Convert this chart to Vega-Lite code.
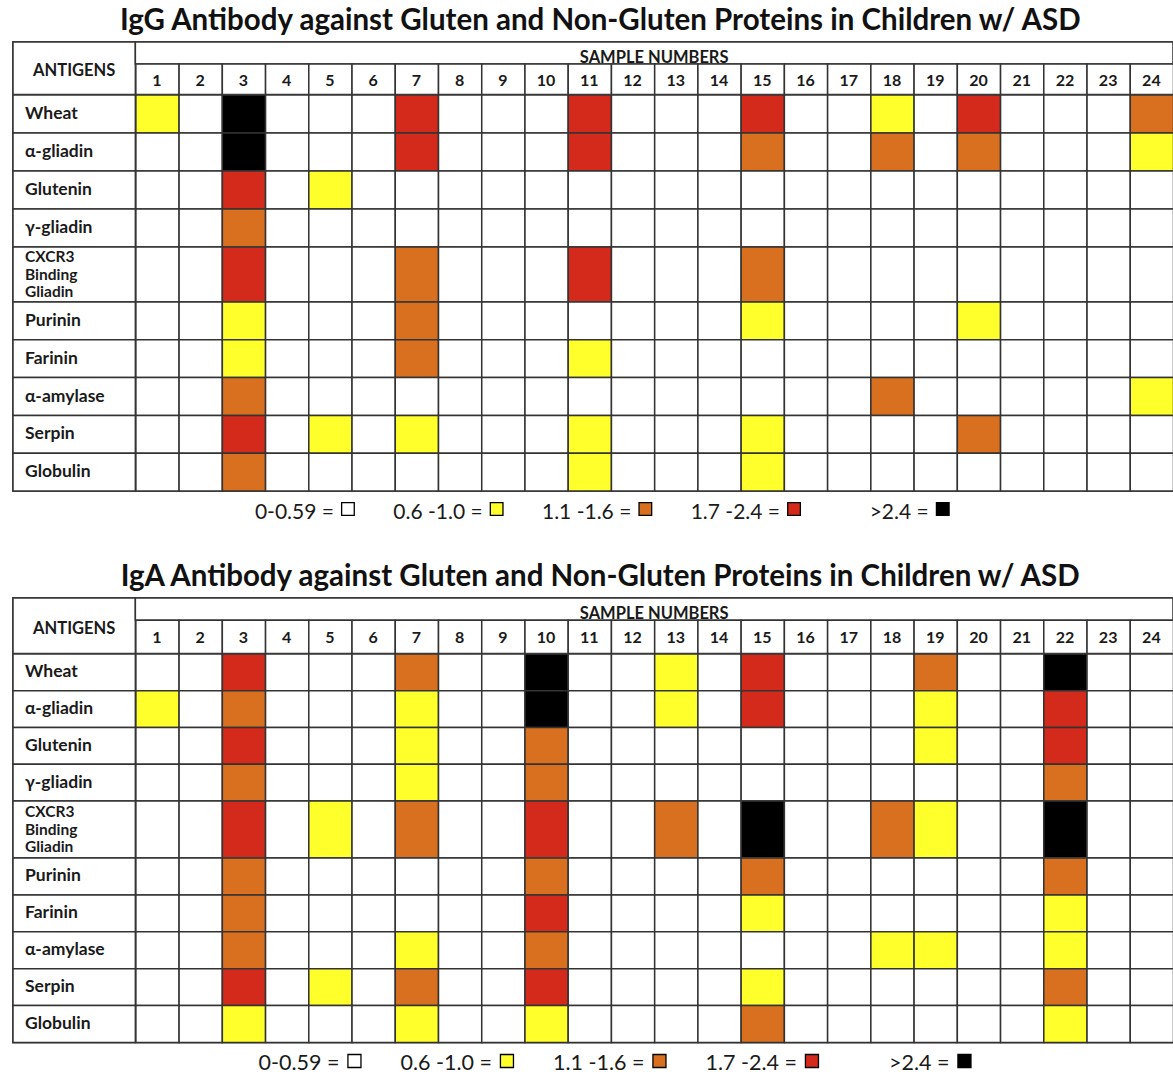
{
  "$schema": "https://vega.github.io/schema/vega-lite/v6.json",
  "padding": {"left": 11, "top": 5, "right": 2, "bottom": 0},
  "background": "white",
  "config": {"view": {"stroke": "#555555", "strokeWidth": 2}, "font": "Lato", "text": {"color": "#1a1a1a"}},
  "datasets": {
    "key": [
      {"v": 0, "label": "0-0.59 ="},
      {"v": 1, "label": "0.6 -1.0 ="},
      {"v": 2, "label": "1.1 -1.6 ="},
      {"v": 3, "label": "1.7 -2.4 ="},
      {"v": 4, "label": ">2.4 ="}
    ],
    "igg": [
      {"a":"Wheat","s":1,"v":1},{"a":"Wheat","s":2,"v":0},{"a":"Wheat","s":3,"v":4},{"a":"Wheat","s":4,"v":0},{"a":"Wheat","s":5,"v":0},{"a":"Wheat","s":6,"v":0},{"a":"Wheat","s":7,"v":3},{"a":"Wheat","s":8,"v":0},{"a":"Wheat","s":9,"v":0},{"a":"Wheat","s":10,"v":0},{"a":"Wheat","s":11,"v":3},{"a":"Wheat","s":12,"v":0},{"a":"Wheat","s":13,"v":0},{"a":"Wheat","s":14,"v":0},{"a":"Wheat","s":15,"v":3},{"a":"Wheat","s":16,"v":0},{"a":"Wheat","s":17,"v":0},{"a":"Wheat","s":18,"v":1},{"a":"Wheat","s":19,"v":0},{"a":"Wheat","s":20,"v":3},{"a":"Wheat","s":21,"v":0},{"a":"Wheat","s":22,"v":0},{"a":"Wheat","s":23,"v":0},{"a":"Wheat","s":24,"v":2},
      {"a":"α-gliadin","s":1,"v":0},{"a":"α-gliadin","s":2,"v":0},{"a":"α-gliadin","s":3,"v":4},{"a":"α-gliadin","s":4,"v":0},{"a":"α-gliadin","s":5,"v":0},{"a":"α-gliadin","s":6,"v":0},{"a":"α-gliadin","s":7,"v":3},{"a":"α-gliadin","s":8,"v":0},{"a":"α-gliadin","s":9,"v":0},{"a":"α-gliadin","s":10,"v":0},{"a":"α-gliadin","s":11,"v":3},{"a":"α-gliadin","s":12,"v":0},{"a":"α-gliadin","s":13,"v":0},{"a":"α-gliadin","s":14,"v":0},{"a":"α-gliadin","s":15,"v":2},{"a":"α-gliadin","s":16,"v":0},{"a":"α-gliadin","s":17,"v":0},{"a":"α-gliadin","s":18,"v":2},{"a":"α-gliadin","s":19,"v":0},{"a":"α-gliadin","s":20,"v":2},{"a":"α-gliadin","s":21,"v":0},{"a":"α-gliadin","s":22,"v":0},{"a":"α-gliadin","s":23,"v":0},{"a":"α-gliadin","s":24,"v":1},
      {"a":"Glutenin","s":1,"v":0},{"a":"Glutenin","s":2,"v":0},{"a":"Glutenin","s":3,"v":3},{"a":"Glutenin","s":4,"v":0},{"a":"Glutenin","s":5,"v":1},{"a":"Glutenin","s":6,"v":0},{"a":"Glutenin","s":7,"v":0},{"a":"Glutenin","s":8,"v":0},{"a":"Glutenin","s":9,"v":0},{"a":"Glutenin","s":10,"v":0},{"a":"Glutenin","s":11,"v":0},{"a":"Glutenin","s":12,"v":0},{"a":"Glutenin","s":13,"v":0},{"a":"Glutenin","s":14,"v":0},{"a":"Glutenin","s":15,"v":0},{"a":"Glutenin","s":16,"v":0},{"a":"Glutenin","s":17,"v":0},{"a":"Glutenin","s":18,"v":0},{"a":"Glutenin","s":19,"v":0},{"a":"Glutenin","s":20,"v":0},{"a":"Glutenin","s":21,"v":0},{"a":"Glutenin","s":22,"v":0},{"a":"Glutenin","s":23,"v":0},{"a":"Glutenin","s":24,"v":0},
      {"a":"γ-gliadin","s":1,"v":0},{"a":"γ-gliadin","s":2,"v":0},{"a":"γ-gliadin","s":3,"v":2},{"a":"γ-gliadin","s":4,"v":0},{"a":"γ-gliadin","s":5,"v":0},{"a":"γ-gliadin","s":6,"v":0},{"a":"γ-gliadin","s":7,"v":0},{"a":"γ-gliadin","s":8,"v":0},{"a":"γ-gliadin","s":9,"v":0},{"a":"γ-gliadin","s":10,"v":0},{"a":"γ-gliadin","s":11,"v":0},{"a":"γ-gliadin","s":12,"v":0},{"a":"γ-gliadin","s":13,"v":0},{"a":"γ-gliadin","s":14,"v":0},{"a":"γ-gliadin","s":15,"v":0},{"a":"γ-gliadin","s":16,"v":0},{"a":"γ-gliadin","s":17,"v":0},{"a":"γ-gliadin","s":18,"v":0},{"a":"γ-gliadin","s":19,"v":0},{"a":"γ-gliadin","s":20,"v":0},{"a":"γ-gliadin","s":21,"v":0},{"a":"γ-gliadin","s":22,"v":0},{"a":"γ-gliadin","s":23,"v":0},{"a":"γ-gliadin","s":24,"v":0},
      {"a":"CXCR3 Binding Gliadin","s":1,"v":0},{"a":"CXCR3 Binding Gliadin","s":2,"v":0},{"a":"CXCR3 Binding Gliadin","s":3,"v":3},{"a":"CXCR3 Binding Gliadin","s":4,"v":0},{"a":"CXCR3 Binding Gliadin","s":5,"v":0},{"a":"CXCR3 Binding Gliadin","s":6,"v":0},{"a":"CXCR3 Binding Gliadin","s":7,"v":2},{"a":"CXCR3 Binding Gliadin","s":8,"v":0},{"a":"CXCR3 Binding Gliadin","s":9,"v":0},{"a":"CXCR3 Binding Gliadin","s":10,"v":0},{"a":"CXCR3 Binding Gliadin","s":11,"v":3},{"a":"CXCR3 Binding Gliadin","s":12,"v":0},{"a":"CXCR3 Binding Gliadin","s":13,"v":0},{"a":"CXCR3 Binding Gliadin","s":14,"v":0},{"a":"CXCR3 Binding Gliadin","s":15,"v":2},{"a":"CXCR3 Binding Gliadin","s":16,"v":0},{"a":"CXCR3 Binding Gliadin","s":17,"v":0},{"a":"CXCR3 Binding Gliadin","s":18,"v":0},{"a":"CXCR3 Binding Gliadin","s":19,"v":0},{"a":"CXCR3 Binding Gliadin","s":20,"v":0},{"a":"CXCR3 Binding Gliadin","s":21,"v":0},{"a":"CXCR3 Binding Gliadin","s":22,"v":0},{"a":"CXCR3 Binding Gliadin","s":23,"v":0},{"a":"CXCR3 Binding Gliadin","s":24,"v":0},
      {"a":"Purinin","s":1,"v":0},{"a":"Purinin","s":2,"v":0},{"a":"Purinin","s":3,"v":1},{"a":"Purinin","s":4,"v":0},{"a":"Purinin","s":5,"v":0},{"a":"Purinin","s":6,"v":0},{"a":"Purinin","s":7,"v":2},{"a":"Purinin","s":8,"v":0},{"a":"Purinin","s":9,"v":0},{"a":"Purinin","s":10,"v":0},{"a":"Purinin","s":11,"v":0},{"a":"Purinin","s":12,"v":0},{"a":"Purinin","s":13,"v":0},{"a":"Purinin","s":14,"v":0},{"a":"Purinin","s":15,"v":1},{"a":"Purinin","s":16,"v":0},{"a":"Purinin","s":17,"v":0},{"a":"Purinin","s":18,"v":0},{"a":"Purinin","s":19,"v":0},{"a":"Purinin","s":20,"v":1},{"a":"Purinin","s":21,"v":0},{"a":"Purinin","s":22,"v":0},{"a":"Purinin","s":23,"v":0},{"a":"Purinin","s":24,"v":0},
      {"a":"Farinin","s":1,"v":0},{"a":"Farinin","s":2,"v":0},{"a":"Farinin","s":3,"v":1},{"a":"Farinin","s":4,"v":0},{"a":"Farinin","s":5,"v":0},{"a":"Farinin","s":6,"v":0},{"a":"Farinin","s":7,"v":2},{"a":"Farinin","s":8,"v":0},{"a":"Farinin","s":9,"v":0},{"a":"Farinin","s":10,"v":0},{"a":"Farinin","s":11,"v":1},{"a":"Farinin","s":12,"v":0},{"a":"Farinin","s":13,"v":0},{"a":"Farinin","s":14,"v":0},{"a":"Farinin","s":15,"v":0},{"a":"Farinin","s":16,"v":0},{"a":"Farinin","s":17,"v":0},{"a":"Farinin","s":18,"v":0},{"a":"Farinin","s":19,"v":0},{"a":"Farinin","s":20,"v":0},{"a":"Farinin","s":21,"v":0},{"a":"Farinin","s":22,"v":0},{"a":"Farinin","s":23,"v":0},{"a":"Farinin","s":24,"v":0},
      {"a":"α-amylase","s":1,"v":0},{"a":"α-amylase","s":2,"v":0},{"a":"α-amylase","s":3,"v":2},{"a":"α-amylase","s":4,"v":0},{"a":"α-amylase","s":5,"v":0},{"a":"α-amylase","s":6,"v":0},{"a":"α-amylase","s":7,"v":0},{"a":"α-amylase","s":8,"v":0},{"a":"α-amylase","s":9,"v":0},{"a":"α-amylase","s":10,"v":0},{"a":"α-amylase","s":11,"v":0},{"a":"α-amylase","s":12,"v":0},{"a":"α-amylase","s":13,"v":0},{"a":"α-amylase","s":14,"v":0},{"a":"α-amylase","s":15,"v":0},{"a":"α-amylase","s":16,"v":0},{"a":"α-amylase","s":17,"v":0},{"a":"α-amylase","s":18,"v":2},{"a":"α-amylase","s":19,"v":0},{"a":"α-amylase","s":20,"v":0},{"a":"α-amylase","s":21,"v":0},{"a":"α-amylase","s":22,"v":0},{"a":"α-amylase","s":23,"v":0},{"a":"α-amylase","s":24,"v":1},
      {"a":"Serpin","s":1,"v":0},{"a":"Serpin","s":2,"v":0},{"a":"Serpin","s":3,"v":3},{"a":"Serpin","s":4,"v":0},{"a":"Serpin","s":5,"v":1},{"a":"Serpin","s":6,"v":0},{"a":"Serpin","s":7,"v":1},{"a":"Serpin","s":8,"v":0},{"a":"Serpin","s":9,"v":0},{"a":"Serpin","s":10,"v":0},{"a":"Serpin","s":11,"v":1},{"a":"Serpin","s":12,"v":0},{"a":"Serpin","s":13,"v":0},{"a":"Serpin","s":14,"v":0},{"a":"Serpin","s":15,"v":1},{"a":"Serpin","s":16,"v":0},{"a":"Serpin","s":17,"v":0},{"a":"Serpin","s":18,"v":0},{"a":"Serpin","s":19,"v":0},{"a":"Serpin","s":20,"v":2},{"a":"Serpin","s":21,"v":0},{"a":"Serpin","s":22,"v":0},{"a":"Serpin","s":23,"v":0},{"a":"Serpin","s":24,"v":0},
      {"a":"Globulin","s":1,"v":0},{"a":"Globulin","s":2,"v":0},{"a":"Globulin","s":3,"v":2},{"a":"Globulin","s":4,"v":0},{"a":"Globulin","s":5,"v":0},{"a":"Globulin","s":6,"v":0},{"a":"Globulin","s":7,"v":0},{"a":"Globulin","s":8,"v":0},{"a":"Globulin","s":9,"v":0},{"a":"Globulin","s":10,"v":0},{"a":"Globulin","s":11,"v":1},{"a":"Globulin","s":12,"v":0},{"a":"Globulin","s":13,"v":0},{"a":"Globulin","s":14,"v":0},{"a":"Globulin","s":15,"v":1},{"a":"Globulin","s":16,"v":0},{"a":"Globulin","s":17,"v":0},{"a":"Globulin","s":18,"v":0},{"a":"Globulin","s":19,"v":0},{"a":"Globulin","s":20,"v":0},{"a":"Globulin","s":21,"v":0},{"a":"Globulin","s":22,"v":0},{"a":"Globulin","s":23,"v":0},{"a":"Globulin","s":24,"v":0}
    ],
    "iga": [
      {"a":"Wheat","s":1,"v":0},{"a":"Wheat","s":2,"v":0},{"a":"Wheat","s":3,"v":3},{"a":"Wheat","s":4,"v":0},{"a":"Wheat","s":5,"v":0},{"a":"Wheat","s":6,"v":0},{"a":"Wheat","s":7,"v":2},{"a":"Wheat","s":8,"v":0},{"a":"Wheat","s":9,"v":0},{"a":"Wheat","s":10,"v":4},{"a":"Wheat","s":11,"v":0},{"a":"Wheat","s":12,"v":0},{"a":"Wheat","s":13,"v":1},{"a":"Wheat","s":14,"v":0},{"a":"Wheat","s":15,"v":3},{"a":"Wheat","s":16,"v":0},{"a":"Wheat","s":17,"v":0},{"a":"Wheat","s":18,"v":0},{"a":"Wheat","s":19,"v":2},{"a":"Wheat","s":20,"v":0},{"a":"Wheat","s":21,"v":0},{"a":"Wheat","s":22,"v":4},{"a":"Wheat","s":23,"v":0},{"a":"Wheat","s":24,"v":0},
      {"a":"α-gliadin","s":1,"v":1},{"a":"α-gliadin","s":2,"v":0},{"a":"α-gliadin","s":3,"v":2},{"a":"α-gliadin","s":4,"v":0},{"a":"α-gliadin","s":5,"v":0},{"a":"α-gliadin","s":6,"v":0},{"a":"α-gliadin","s":7,"v":1},{"a":"α-gliadin","s":8,"v":0},{"a":"α-gliadin","s":9,"v":0},{"a":"α-gliadin","s":10,"v":4},{"a":"α-gliadin","s":11,"v":0},{"a":"α-gliadin","s":12,"v":0},{"a":"α-gliadin","s":13,"v":1},{"a":"α-gliadin","s":14,"v":0},{"a":"α-gliadin","s":15,"v":3},{"a":"α-gliadin","s":16,"v":0},{"a":"α-gliadin","s":17,"v":0},{"a":"α-gliadin","s":18,"v":0},{"a":"α-gliadin","s":19,"v":1},{"a":"α-gliadin","s":20,"v":0},{"a":"α-gliadin","s":21,"v":0},{"a":"α-gliadin","s":22,"v":3},{"a":"α-gliadin","s":23,"v":0},{"a":"α-gliadin","s":24,"v":0},
      {"a":"Glutenin","s":1,"v":0},{"a":"Glutenin","s":2,"v":0},{"a":"Glutenin","s":3,"v":3},{"a":"Glutenin","s":4,"v":0},{"a":"Glutenin","s":5,"v":0},{"a":"Glutenin","s":6,"v":0},{"a":"Glutenin","s":7,"v":1},{"a":"Glutenin","s":8,"v":0},{"a":"Glutenin","s":9,"v":0},{"a":"Glutenin","s":10,"v":2},{"a":"Glutenin","s":11,"v":0},{"a":"Glutenin","s":12,"v":0},{"a":"Glutenin","s":13,"v":0},{"a":"Glutenin","s":14,"v":0},{"a":"Glutenin","s":15,"v":0},{"a":"Glutenin","s":16,"v":0},{"a":"Glutenin","s":17,"v":0},{"a":"Glutenin","s":18,"v":0},{"a":"Glutenin","s":19,"v":1},{"a":"Glutenin","s":20,"v":0},{"a":"Glutenin","s":21,"v":0},{"a":"Glutenin","s":22,"v":3},{"a":"Glutenin","s":23,"v":0},{"a":"Glutenin","s":24,"v":0},
      {"a":"γ-gliadin","s":1,"v":0},{"a":"γ-gliadin","s":2,"v":0},{"a":"γ-gliadin","s":3,"v":2},{"a":"γ-gliadin","s":4,"v":0},{"a":"γ-gliadin","s":5,"v":0},{"a":"γ-gliadin","s":6,"v":0},{"a":"γ-gliadin","s":7,"v":1},{"a":"γ-gliadin","s":8,"v":0},{"a":"γ-gliadin","s":9,"v":0},{"a":"γ-gliadin","s":10,"v":2},{"a":"γ-gliadin","s":11,"v":0},{"a":"γ-gliadin","s":12,"v":0},{"a":"γ-gliadin","s":13,"v":0},{"a":"γ-gliadin","s":14,"v":0},{"a":"γ-gliadin","s":15,"v":0},{"a":"γ-gliadin","s":16,"v":0},{"a":"γ-gliadin","s":17,"v":0},{"a":"γ-gliadin","s":18,"v":0},{"a":"γ-gliadin","s":19,"v":0},{"a":"γ-gliadin","s":20,"v":0},{"a":"γ-gliadin","s":21,"v":0},{"a":"γ-gliadin","s":22,"v":2},{"a":"γ-gliadin","s":23,"v":0},{"a":"γ-gliadin","s":24,"v":0},
      {"a":"CXCR3 Binding Gliadin","s":1,"v":0},{"a":"CXCR3 Binding Gliadin","s":2,"v":0},{"a":"CXCR3 Binding Gliadin","s":3,"v":3},{"a":"CXCR3 Binding Gliadin","s":4,"v":0},{"a":"CXCR3 Binding Gliadin","s":5,"v":1},{"a":"CXCR3 Binding Gliadin","s":6,"v":0},{"a":"CXCR3 Binding Gliadin","s":7,"v":2},{"a":"CXCR3 Binding Gliadin","s":8,"v":0},{"a":"CXCR3 Binding Gliadin","s":9,"v":0},{"a":"CXCR3 Binding Gliadin","s":10,"v":3},{"a":"CXCR3 Binding Gliadin","s":11,"v":0},{"a":"CXCR3 Binding Gliadin","s":12,"v":0},{"a":"CXCR3 Binding Gliadin","s":13,"v":2},{"a":"CXCR3 Binding Gliadin","s":14,"v":0},{"a":"CXCR3 Binding Gliadin","s":15,"v":4},{"a":"CXCR3 Binding Gliadin","s":16,"v":0},{"a":"CXCR3 Binding Gliadin","s":17,"v":0},{"a":"CXCR3 Binding Gliadin","s":18,"v":2},{"a":"CXCR3 Binding Gliadin","s":19,"v":1},{"a":"CXCR3 Binding Gliadin","s":20,"v":0},{"a":"CXCR3 Binding Gliadin","s":21,"v":0},{"a":"CXCR3 Binding Gliadin","s":22,"v":4},{"a":"CXCR3 Binding Gliadin","s":23,"v":0},{"a":"CXCR3 Binding Gliadin","s":24,"v":0},
      {"a":"Purinin","s":1,"v":0},{"a":"Purinin","s":2,"v":0},{"a":"Purinin","s":3,"v":2},{"a":"Purinin","s":4,"v":0},{"a":"Purinin","s":5,"v":0},{"a":"Purinin","s":6,"v":0},{"a":"Purinin","s":7,"v":0},{"a":"Purinin","s":8,"v":0},{"a":"Purinin","s":9,"v":0},{"a":"Purinin","s":10,"v":2},{"a":"Purinin","s":11,"v":0},{"a":"Purinin","s":12,"v":0},{"a":"Purinin","s":13,"v":0},{"a":"Purinin","s":14,"v":0},{"a":"Purinin","s":15,"v":2},{"a":"Purinin","s":16,"v":0},{"a":"Purinin","s":17,"v":0},{"a":"Purinin","s":18,"v":0},{"a":"Purinin","s":19,"v":0},{"a":"Purinin","s":20,"v":0},{"a":"Purinin","s":21,"v":0},{"a":"Purinin","s":22,"v":2},{"a":"Purinin","s":23,"v":0},{"a":"Purinin","s":24,"v":0},
      {"a":"Farinin","s":1,"v":0},{"a":"Farinin","s":2,"v":0},{"a":"Farinin","s":3,"v":2},{"a":"Farinin","s":4,"v":0},{"a":"Farinin","s":5,"v":0},{"a":"Farinin","s":6,"v":0},{"a":"Farinin","s":7,"v":0},{"a":"Farinin","s":8,"v":0},{"a":"Farinin","s":9,"v":0},{"a":"Farinin","s":10,"v":3},{"a":"Farinin","s":11,"v":0},{"a":"Farinin","s":12,"v":0},{"a":"Farinin","s":13,"v":0},{"a":"Farinin","s":14,"v":0},{"a":"Farinin","s":15,"v":1},{"a":"Farinin","s":16,"v":0},{"a":"Farinin","s":17,"v":0},{"a":"Farinin","s":18,"v":0},{"a":"Farinin","s":19,"v":0},{"a":"Farinin","s":20,"v":0},{"a":"Farinin","s":21,"v":0},{"a":"Farinin","s":22,"v":1},{"a":"Farinin","s":23,"v":0},{"a":"Farinin","s":24,"v":0},
      {"a":"α-amylase","s":1,"v":0},{"a":"α-amylase","s":2,"v":0},{"a":"α-amylase","s":3,"v":2},{"a":"α-amylase","s":4,"v":0},{"a":"α-amylase","s":5,"v":0},{"a":"α-amylase","s":6,"v":0},{"a":"α-amylase","s":7,"v":1},{"a":"α-amylase","s":8,"v":0},{"a":"α-amylase","s":9,"v":0},{"a":"α-amylase","s":10,"v":2},{"a":"α-amylase","s":11,"v":0},{"a":"α-amylase","s":12,"v":0},{"a":"α-amylase","s":13,"v":0},{"a":"α-amylase","s":14,"v":0},{"a":"α-amylase","s":15,"v":0},{"a":"α-amylase","s":16,"v":0},{"a":"α-amylase","s":17,"v":0},{"a":"α-amylase","s":18,"v":1},{"a":"α-amylase","s":19,"v":1},{"a":"α-amylase","s":20,"v":0},{"a":"α-amylase","s":21,"v":0},{"a":"α-amylase","s":22,"v":1},{"a":"α-amylase","s":23,"v":0},{"a":"α-amylase","s":24,"v":0},
      {"a":"Serpin","s":1,"v":0},{"a":"Serpin","s":2,"v":0},{"a":"Serpin","s":3,"v":3},{"a":"Serpin","s":4,"v":0},{"a":"Serpin","s":5,"v":1},{"a":"Serpin","s":6,"v":0},{"a":"Serpin","s":7,"v":2},{"a":"Serpin","s":8,"v":0},{"a":"Serpin","s":9,"v":0},{"a":"Serpin","s":10,"v":3},{"a":"Serpin","s":11,"v":0},{"a":"Serpin","s":12,"v":0},{"a":"Serpin","s":13,"v":0},{"a":"Serpin","s":14,"v":0},{"a":"Serpin","s":15,"v":1},{"a":"Serpin","s":16,"v":0},{"a":"Serpin","s":17,"v":0},{"a":"Serpin","s":18,"v":0},{"a":"Serpin","s":19,"v":0},{"a":"Serpin","s":20,"v":0},{"a":"Serpin","s":21,"v":0},{"a":"Serpin","s":22,"v":2},{"a":"Serpin","s":23,"v":0},{"a":"Serpin","s":24,"v":0},
      {"a":"Globulin","s":1,"v":0},{"a":"Globulin","s":2,"v":0},{"a":"Globulin","s":3,"v":1},{"a":"Globulin","s":4,"v":0},{"a":"Globulin","s":5,"v":0},{"a":"Globulin","s":6,"v":0},{"a":"Globulin","s":7,"v":1},{"a":"Globulin","s":8,"v":0},{"a":"Globulin","s":9,"v":0},{"a":"Globulin","s":10,"v":1},{"a":"Globulin","s":11,"v":0},{"a":"Globulin","s":12,"v":0},{"a":"Globulin","s":13,"v":0},{"a":"Globulin","s":14,"v":0},{"a":"Globulin","s":15,"v":2},{"a":"Globulin","s":16,"v":0},{"a":"Globulin","s":17,"v":0},{"a":"Globulin","s":18,"v":0},{"a":"Globulin","s":19,"v":0},{"a":"Globulin","s":20,"v":0},{"a":"Globulin","s":21,"v":0},{"a":"Globulin","s":22,"v":1},{"a":"Globulin","s":23,"v":0},{"a":"Globulin","s":24,"v":0}
    ]
  },
  "spacing": 30,
  "vconcat": [
    {
      "title": {"text": "IgG Antibody against Gluten and Non-Gluten Proteins in Children w/ ASD", "font": "Lato", "fontSize": 29.5, "fontWeight": "bold", "color": "#111111", "anchor": "middle", "offset": 4, "dx": 7},
      "spacing": 0,
      "bounds": "flush",
      "resolve": {"scale": {"x": "independent", "y": "independent", "color": "independent"}},
      "vconcat": [
        {
          "width": 1160, "height": 52.5,
          "layer": [
            {"data": {"values": [{}]}, "mark": {"type": "rect", "fill": "white", "stroke": "#333333", "strokeWidth": 1.5},
             "encoding": {"x": {"datum": -2.33, "type": "quantitative", "scale": {"domain": [-2.33, 24.5], "nice": false, "zero": false}, "axis": null}, "x2": {"datum": 0.5}, "y": {"datum": 0, "type": "quantitative", "scale": {"domain": [0, 1], "reverse": true, "nice": false, "zero": false}, "axis": null}, "y2": {"datum": 1}}},
            {"data": {"values": [{}]}, "mark": {"type": "text", "text": "ANTIGENS", "fontSize": 16.5, "fontWeight": "bold", "align": "center", "baseline": "middle"},
             "encoding": {"x": {"datum": -0.915, "type": "quantitative"}, "y": {"datum": 0.56, "type": "quantitative"}}},
            {"data": {"values": [{}]}, "mark": {"type": "rect", "fill": "white", "stroke": "#333333", "strokeWidth": 1.5},
             "encoding": {"x": {"datum": 0.5, "type": "quantitative"}, "x2": {"datum": 24.5}, "y": {"datum": 0, "type": "quantitative"}, "y2": {"datum": 0.42}}},
            {"data": {"values": [{}]}, "mark": {"type": "text", "text": "SAMPLE NUMBERS", "fontSize": 16.5, "fontWeight": "bold", "align": "center", "baseline": "middle"},
             "encoding": {"x": {"datum": 12.5, "type": "quantitative"}, "y": {"datum": 0.3, "type": "quantitative"}}},
            {"data": {"name": "igg"}, "transform": [{"filter": "datum.a == 'Wheat'"}], "mark": {"type": "rect", "fill": "white", "stroke": "#333333", "strokeWidth": 1.5},
             "encoding": {"x": {"field": "s", "type": "quantitative", "bin": {"step": 1, "extent": [0.5, 24.5], "nice": false}}, "y": {"datum": 0.42, "type": "quantitative"}, "y2": {"datum": 1}}},
            {"data": {"name": "igg"}, "transform": [{"filter": "datum.a == 'Wheat'"}], "mark": {"type": "text", "fontSize": 16, "fontWeight": "bold", "align": "center", "baseline": "middle"},
             "encoding": {"x": {"field": "s", "type": "quantitative"}, "y": {"datum": 0.74, "type": "quantitative"}, "text": {"field": "s"}}}
          ]
        },
        {
          "width": 1160, "height": 152,
          "data": {"name": "igg"},
          "transform": [{"filter": {"field": "a", "oneOf": ["Wheat", "α-gliadin", "Glutenin", "γ-gliadin"]}}],
          "encoding": {"y": {"field": "a", "type": "nominal", "scale": {"domain": ["Wheat", "α-gliadin", "Glutenin", "γ-gliadin"], "paddingInner": 0, "paddingOuter": 0}, "axis": null}},
          "layer": [
            {"mark": {"type": "rect", "stroke": "#333333", "strokeWidth": 1.5},
             "encoding": {"x": {"field": "s", "type": "quantitative", "bin": {"step": 1, "extent": [0.5, 24.5], "nice": false}, "scale": {"domain": [-2.33, 24.5], "nice": false, "zero": false}, "axis": null},
                          "color": {"field": "v", "type": "ordinal", "scale": {"domain": [0, 1, 2, 3, 4], "range": ["#ffffff", "#ffff2b", "#d9701f", "#d42a1c", "#000000"]}, "legend": null}}},
            {"transform": [{"filter": "datum.s == 1"}], "mark": {"type": "rect", "fill": "white", "stroke": "#333333", "strokeWidth": 1.5},
             "encoding": {"x": {"datum": -2.33, "type": "quantitative"}, "x2": {"datum": 0.5}}},
            {"transform": [{"filter": "datum.s == 1"}], "mark": {"type": "text", "align": "left", "dx": 12, "fontSize": 17.5, "fontWeight": "bold", "baseline": "middle"},
             "encoding": {"x": {"datum": -2.33, "type": "quantitative"}, "text": {"field": "a"}}}
          ]
        },
        {
          "width": 1160, "height": 55,
          "data": {"name": "igg"},
          "transform": [{"filter": {"field": "a", "oneOf": ["CXCR3 Binding Gliadin"]}}],
          "encoding": {"y": {"field": "a", "type": "nominal", "scale": {"domain": ["CXCR3 Binding Gliadin"], "paddingInner": 0, "paddingOuter": 0}, "axis": null}},
          "layer": [
            {"mark": {"type": "rect", "stroke": "#333333", "strokeWidth": 1.5},
             "encoding": {"x": {"field": "s", "type": "quantitative", "bin": {"step": 1, "extent": [0.5, 24.5], "nice": false}, "scale": {"domain": [-2.33, 24.5], "nice": false, "zero": false}, "axis": null},
                          "color": {"field": "v", "type": "ordinal", "scale": {"domain": [0, 1, 2, 3, 4], "range": ["#ffffff", "#ffff2b", "#d9701f", "#d42a1c", "#000000"]}, "legend": null}}},
            {"transform": [{"filter": "datum.s == 1"}], "mark": {"type": "rect", "fill": "white", "stroke": "#333333", "strokeWidth": 1.5},
             "encoding": {"x": {"datum": -2.33, "type": "quantitative"}, "x2": {"datum": 0.5}}},
            {"transform": [{"filter": "datum.s == 1"}], "mark": {"type": "text", "align": "left", "dx": 12, "dy": -17.5, "fontSize": 15.5, "fontWeight": "bold", "baseline": "middle", "lineBreak": " ", "lineHeight": 17.5},
             "encoding": {"x": {"datum": -2.33, "type": "quantitative"}, "text": {"field": "a"}}}
          ]
        },
        {
          "width": 1160, "height": 189,
          "data": {"name": "igg"},
          "transform": [{"filter": {"field": "a", "oneOf": ["Purinin", "Farinin", "α-amylase", "Serpin", "Globulin"]}}],
          "encoding": {"y": {"field": "a", "type": "nominal", "scale": {"domain": ["Purinin", "Farinin", "α-amylase", "Serpin", "Globulin"], "paddingInner": 0, "paddingOuter": 0}, "axis": null}},
          "layer": [
            {"mark": {"type": "rect", "stroke": "#333333", "strokeWidth": 1.5},
             "encoding": {"x": {"field": "s", "type": "quantitative", "bin": {"step": 1, "extent": [0.5, 24.5], "nice": false}, "scale": {"domain": [-2.33, 24.5], "nice": false, "zero": false}, "axis": null},
                          "color": {"field": "v", "type": "ordinal", "scale": {"domain": [0, 1, 2, 3, 4], "range": ["#ffffff", "#ffff2b", "#d9701f", "#d42a1c", "#000000"]}, "legend": null}}},
            {"transform": [{"filter": "datum.s == 1"}], "mark": {"type": "rect", "fill": "white", "stroke": "#333333", "strokeWidth": 1.5},
             "encoding": {"x": {"datum": -2.33, "type": "quantitative"}, "x2": {"datum": 0.5}}},
            {"transform": [{"filter": "datum.s == 1"}], "mark": {"type": "text", "align": "left", "dx": 12, "fontSize": 17.5, "fontWeight": "bold", "baseline": "middle"},
             "encoding": {"x": {"datum": -2.33, "type": "quantitative"}, "text": {"field": "a"}}}
          ]
        },
        {
          "width": 1160, "height": 40,
          "view": {"stroke": null},
          "data": {"name": "key"},
          "encoding": {"x": {"field": "v", "type": "ordinal", "scale": {"range": [246.6, 990.1], "paddingInner": 0, "paddingOuter": 0}, "axis": null}},
          "layer": [
            {"mark": {"type": "text", "align": "right", "baseline": "middle", "fontSize": 21, "dy": 2},
             "encoding": {"text": {"field": "label"}}},
            {"mark": {"type": "square", "size": 160, "stroke": "#000000", "strokeWidth": 1.3, "opacity": 1, "xOffset": 14, "yOffset": -2},
             "encoding": {"fill": {"field": "v", "type": "ordinal", "scale": {"domain": [0, 1, 2, 3, 4], "range": ["#ffffff", "#ffff2b", "#d9701f", "#d42a1c", "#000000"]}, "legend": null}}}
          ]
        }
      ]
    },
    {
      "title": {"text": "IgA Antibody against Gluten and Non-Gluten Proteins in Children w/ ASD", "font": "Lato", "fontSize": 29.5, "fontWeight": "bold", "color": "#111111", "anchor": "middle", "offset": 4, "dx": 7},
      "spacing": 0,
      "bounds": "flush",
      "resolve": {"scale": {"x": "independent", "y": "independent", "color": "independent"}},
      "vconcat": [
        {
          "width": 1160, "height": 55.5,
          "layer": [
            {"data": {"values": [{}]}, "mark": {"type": "rect", "fill": "white", "stroke": "#333333", "strokeWidth": 1.5},
             "encoding": {"x": {"datum": -2.33, "type": "quantitative", "scale": {"domain": [-2.33, 24.5], "nice": false, "zero": false}, "axis": null}, "x2": {"datum": 0.5}, "y": {"datum": 0, "type": "quantitative", "scale": {"domain": [0, 1], "reverse": true, "nice": false, "zero": false}, "axis": null}, "y2": {"datum": 1}}},
            {"data": {"values": [{}]}, "mark": {"type": "text", "text": "ANTIGENS", "fontSize": 16.5, "fontWeight": "bold", "align": "center", "baseline": "middle"},
             "encoding": {"x": {"datum": -0.915, "type": "quantitative"}, "y": {"datum": 0.56, "type": "quantitative"}}},
            {"data": {"values": [{}]}, "mark": {"type": "rect", "fill": "white", "stroke": "#333333", "strokeWidth": 1.5},
             "encoding": {"x": {"datum": 0.5, "type": "quantitative"}, "x2": {"datum": 24.5}, "y": {"datum": 0, "type": "quantitative"}, "y2": {"datum": 0.4}}},
            {"data": {"values": [{}]}, "mark": {"type": "text", "text": "SAMPLE NUMBERS", "fontSize": 16.5, "fontWeight": "bold", "align": "center", "baseline": "middle"},
             "encoding": {"x": {"datum": 12.5, "type": "quantitative"}, "y": {"datum": 0.28, "type": "quantitative"}}},
            {"data": {"name": "iga"}, "transform": [{"filter": "datum.a == 'Wheat'"}], "mark": {"type": "rect", "fill": "white", "stroke": "#333333", "strokeWidth": 1.5},
             "encoding": {"x": {"field": "s", "type": "quantitative", "bin": {"step": 1, "extent": [0.5, 24.5], "nice": false}}, "y": {"datum": 0.4, "type": "quantitative"}, "y2": {"datum": 1}}},
            {"data": {"name": "iga"}, "transform": [{"filter": "datum.a == 'Wheat'"}], "mark": {"type": "text", "fontSize": 16, "fontWeight": "bold", "align": "center", "baseline": "middle"},
             "encoding": {"x": {"field": "s", "type": "quantitative"}, "y": {"datum": 0.72, "type": "quantitative"}, "text": {"field": "s"}}}
          ]
        },
        {
          "width": 1160, "height": 147,
          "data": {"name": "iga"},
          "transform": [{"filter": {"field": "a", "oneOf": ["Wheat", "α-gliadin", "Glutenin", "γ-gliadin"]}}],
          "encoding": {"y": {"field": "a", "type": "nominal", "scale": {"domain": ["Wheat", "α-gliadin", "Glutenin", "γ-gliadin"], "paddingInner": 0, "paddingOuter": 0}, "axis": null}},
          "layer": [
            {"mark": {"type": "rect", "stroke": "#333333", "strokeWidth": 1.5},
             "encoding": {"x": {"field": "s", "type": "quantitative", "bin": {"step": 1, "extent": [0.5, 24.5], "nice": false}, "scale": {"domain": [-2.33, 24.5], "nice": false, "zero": false}, "axis": null},
                          "color": {"field": "v", "type": "ordinal", "scale": {"domain": [0, 1, 2, 3, 4], "range": ["#ffffff", "#ffff2b", "#d9701f", "#d42a1c", "#000000"]}, "legend": null}}},
            {"transform": [{"filter": "datum.s == 1"}], "mark": {"type": "rect", "fill": "white", "stroke": "#333333", "strokeWidth": 1.5},
             "encoding": {"x": {"datum": -2.33, "type": "quantitative"}, "x2": {"datum": 0.5}}},
            {"transform": [{"filter": "datum.s == 1"}], "mark": {"type": "text", "align": "left", "dx": 12, "fontSize": 17.5, "fontWeight": "bold", "baseline": "middle"},
             "encoding": {"x": {"datum": -2.33, "type": "quantitative"}, "text": {"field": "a"}}}
          ]
        },
        {
          "width": 1160, "height": 57,
          "data": {"name": "iga"},
          "transform": [{"filter": {"field": "a", "oneOf": ["CXCR3 Binding Gliadin"]}}],
          "encoding": {"y": {"field": "a", "type": "nominal", "scale": {"domain": ["CXCR3 Binding Gliadin"], "paddingInner": 0, "paddingOuter": 0}, "axis": null}},
          "layer": [
            {"mark": {"type": "rect", "stroke": "#333333", "strokeWidth": 1.5},
             "encoding": {"x": {"field": "s", "type": "quantitative", "bin": {"step": 1, "extent": [0.5, 24.5], "nice": false}, "scale": {"domain": [-2.33, 24.5], "nice": false, "zero": false}, "axis": null},
                          "color": {"field": "v", "type": "ordinal", "scale": {"domain": [0, 1, 2, 3, 4], "range": ["#ffffff", "#ffff2b", "#d9701f", "#d42a1c", "#000000"]}, "legend": null}}},
            {"transform": [{"filter": "datum.s == 1"}], "mark": {"type": "rect", "fill": "white", "stroke": "#333333", "strokeWidth": 1.5},
             "encoding": {"x": {"datum": -2.33, "type": "quantitative"}, "x2": {"datum": 0.5}}},
            {"transform": [{"filter": "datum.s == 1"}], "mark": {"type": "text", "align": "left", "dx": 12, "dy": -17.5, "fontSize": 15.5, "fontWeight": "bold", "baseline": "middle", "lineBreak": " ", "lineHeight": 17.5},
             "encoding": {"x": {"datum": -2.33, "type": "quantitative"}, "text": {"field": "a"}}}
          ]
        },
        {
          "width": 1160, "height": 184.5,
          "data": {"name": "iga"},
          "transform": [{"filter": {"field": "a", "oneOf": ["Purinin", "Farinin", "α-amylase", "Serpin", "Globulin"]}}],
          "encoding": {"y": {"field": "a", "type": "nominal", "scale": {"domain": ["Purinin", "Farinin", "α-amylase", "Serpin", "Globulin"], "paddingInner": 0, "paddingOuter": 0}, "axis": null}},
          "layer": [
            {"mark": {"type": "rect", "stroke": "#333333", "strokeWidth": 1.5},
             "encoding": {"x": {"field": "s", "type": "quantitative", "bin": {"step": 1, "extent": [0.5, 24.5], "nice": false}, "scale": {"domain": [-2.33, 24.5], "nice": false, "zero": false}, "axis": null},
                          "color": {"field": "v", "type": "ordinal", "scale": {"domain": [0, 1, 2, 3, 4], "range": ["#ffffff", "#ffff2b", "#d9701f", "#d42a1c", "#000000"]}, "legend": null}}},
            {"transform": [{"filter": "datum.s == 1"}], "mark": {"type": "rect", "fill": "white", "stroke": "#333333", "strokeWidth": 1.5},
             "encoding": {"x": {"datum": -2.33, "type": "quantitative"}, "x2": {"datum": 0.5}}},
            {"transform": [{"filter": "datum.s == 1"}], "mark": {"type": "text", "align": "left", "dx": 12, "fontSize": 17.5, "fontWeight": "bold", "baseline": "middle"},
             "encoding": {"x": {"datum": -2.33, "type": "quantitative"}, "text": {"field": "a"}}}
          ]
        },
        {
          "width": 1160, "height": 34,
          "view": {"stroke": null},
          "data": {"name": "key"},
          "encoding": {"x": {"field": "v", "type": "ordinal", "scale": {"range": [250.2, 1012.7], "paddingInner": 0, "paddingOuter": 0}, "axis": null}},
          "layer": [
            {"mark": {"type": "text", "align": "right", "baseline": "middle", "fontSize": 21.5, "dy": 4},
             "encoding": {"text": {"field": "label"}}},
            {"mark": {"type": "square", "size": 170, "stroke": "#000000", "strokeWidth": 1.3, "opacity": 1, "xOffset": 15, "yOffset": 1},
             "encoding": {"fill": {"field": "v", "type": "ordinal", "scale": {"domain": [0, 1, 2, 3, 4], "range": ["#ffffff", "#ffff2b", "#d9701f", "#d42a1c", "#000000"]}, "legend": null}}}
          ]
        }
      ]
    }
  ]
}
